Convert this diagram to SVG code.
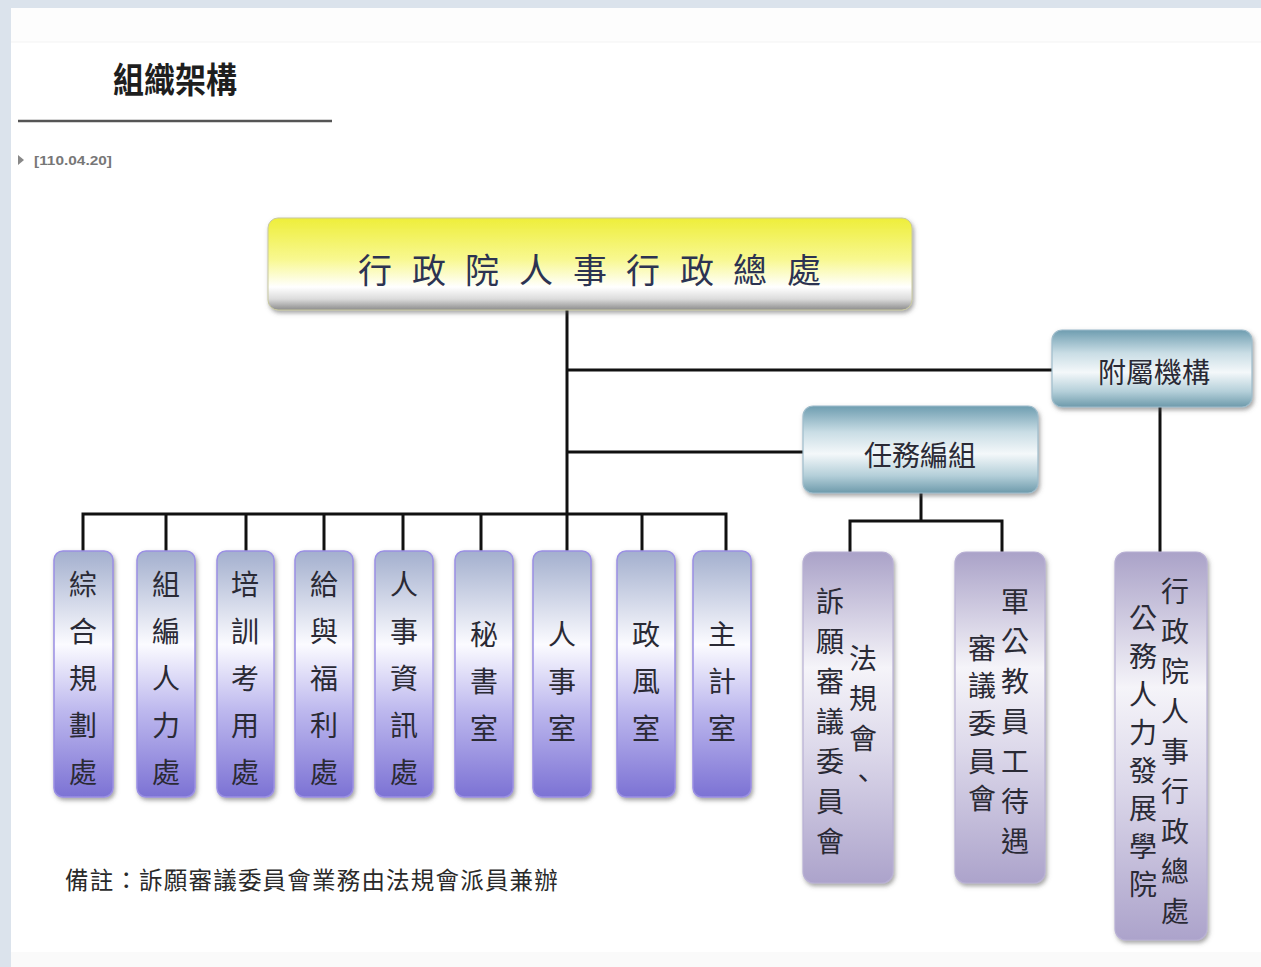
<svg xmlns="http://www.w3.org/2000/svg" width="1261" height="967" viewBox="0 0 1261 967">
<defs>
<style>
.cjk{font-family:"Noto Sans CJK TC","Noto Sans CJK SC",sans-serif;}
.lbl{font-size:28px;fill:#2a2a35;text-anchor:middle;dominant-baseline:central;}
.line{stroke:#111;stroke-width:3;fill:none;}
.purple{fill:url(#gPurple);stroke:#9a8fe4;stroke-width:1.5;filter:url(#sh);}
.lav{fill:url(#gLav);stroke:#b8b0d4;stroke-width:1.2;filter:url(#sh);}
.teal{fill:url(#gTeal);stroke:#9ebccb;stroke-width:1.2;filter:url(#sh);}
</style>
<linearGradient id="gTop" x1="0" y1="0" x2="0" y2="1">
<stop offset="0" stop-color="#eeee3a"/>
<stop offset="0.45" stop-color="#f8f890"/>
<stop offset="0.75" stop-color="#ffffff"/>
<stop offset="0.88" stop-color="#dcdcdc"/>
<stop offset="1" stop-color="#8c8c8c"/>
</linearGradient>
<linearGradient id="gTeal" x1="0" y1="0" x2="0" y2="1">
<stop offset="0" stop-color="#6e9db0"/>
<stop offset="0.3" stop-color="#c9dde5"/>
<stop offset="0.55" stop-color="#f4f8fa"/>
<stop offset="0.8" stop-color="#b4cfd9"/>
<stop offset="1" stop-color="#6d9aab"/>
</linearGradient>
<linearGradient id="gPurple" x1="0" y1="0" x2="0" y2="1">
<stop offset="0" stop-color="#a3afce"/>
<stop offset="0.38" stop-color="#fbfbff"/>
<stop offset="0.65" stop-color="#bdb8ee"/>
<stop offset="1" stop-color="#7c72d4"/>
</linearGradient>
<linearGradient id="gLav" x1="0" y1="0" x2="0" y2="1">
<stop offset="0" stop-color="#aaa2c8"/>
<stop offset="0.35" stop-color="#f5f4f9"/>
<stop offset="0.6" stop-color="#dcd8ea"/>
<stop offset="1" stop-color="#aca3cb"/>
</linearGradient>
<filter id="sh" x="-20%" y="-10%" width="140%" height="130%">
<feDropShadow dx="1.5" dy="2.5" stdDeviation="2" flood-color="#555" flood-opacity="0.55"/>
</filter>
</defs>

<rect x="0" y="0" width="1261" height="967" fill="#dbe3ec"/>
<rect x="11" y="8" width="1250" height="959" fill="#ffffff"/>
<rect x="11" y="8" width="1250" height="34" fill="#fdfdfd"/>
<line x1="11" y1="42" x2="1261" y2="42" stroke="#f3f3f3" stroke-width="1"/>
<rect x="11" y="952" width="1250" height="15" fill="#fafafa"/>

<g id="title">
<text class="cjk" x="175" y="0" font-size="31" font-weight="700" fill="#1e1e1e" text-anchor="middle" transform="translate(0 93) scale(1 1.12)">組織架構</text>
<line x1="18" y1="121" x2="332" y2="121" stroke="#555" stroke-width="2.5"/>
<polygon points="18,155 18,165 24,160" fill="#888"/>
<text x="34" y="165" font-family="Liberation Sans, sans-serif" font-size="13.5" font-weight="700" fill="#777" textLength="78" lengthAdjust="spacingAndGlyphs">[110.04.20]</text>
</g>

<g id="connectors">
<line class="line" x1="567" y1="310" x2="567" y2="551"/>
<line class="line" x1="567" y1="370" x2="1053" y2="370"/>
<line class="line" x1="567" y1="452" x2="804" y2="452"/>
<polyline class="line" points="83,551 83,514 726,514 726,551"/>
<line class="line" x1="166" y1="514" x2="166" y2="551"/>
<line class="line" x1="246" y1="514" x2="246" y2="551"/>
<line class="line" x1="324" y1="514" x2="324" y2="551"/>
<line class="line" x1="403" y1="514" x2="403" y2="551"/>
<line class="line" x1="481" y1="514" x2="481" y2="551"/>
<line class="line" x1="642" y1="514" x2="642" y2="551"/>
<line class="line" x1="921" y1="493" x2="921" y2="521"/>
<polyline class="line" points="850,552 850,521 1002,521 1002,552"/>
<line class="line" x1="1160" y1="407" x2="1160" y2="552"/>
</g>

<g id="n-top">
<rect x="268" y="218" width="644" height="92" rx="10" fill="url(#gTop)" stroke="#c8c8a0" stroke-width="1" filter="url(#sh)"/>
<text class="cjk" font-size="34" fill="#2c3352" text-anchor="middle" dominant-baseline="central" x="375 429 482 536 590 643 697 750 804" y="268">行政院人事行政總處</text>
</g>

<g id="n-fushu">
<rect class="teal" x="1052" y="330" width="200" height="77" rx="10"/>
<text class="cjk lbl" x="1154" y="371">附屬機構</text>
</g>

<g id="n-renwu">
<rect class="teal" x="803" y="406" width="235" height="87" rx="10"/>
<text class="cjk lbl" x="920" y="454">任務編組</text>
</g>

<g id="n-b1">
<rect class="purple" x="54" y="551" width="59" height="246" rx="9"/>
<text class="cjk lbl" x="83 83 83 83 83" y="583 630 677 724 771">綜合規劃處</text>
</g>
<g id="n-b2">
<rect class="purple" x="137" y="551" width="58" height="246" rx="9"/>
<text class="cjk lbl" x="166 166 166 166 166" y="583 630 677 724 771">組編人力處</text>
</g>
<g id="n-b3">
<rect class="purple" x="217" y="551" width="57" height="246" rx="9"/>
<text class="cjk lbl" x="245 245 245 245 245" y="583 630 677 724 771">培訓考用處</text>
</g>
<g id="n-b4">
<rect class="purple" x="295" y="551" width="58" height="246" rx="9"/>
<text class="cjk lbl" x="324 324 324 324 324" y="583 630 677 724 771">給與福利處</text>
</g>
<g id="n-b5">
<rect class="purple" x="375" y="551" width="58" height="246" rx="9"/>
<text class="cjk lbl" x="404 404 404 404 404" y="583 630 677 724 771">人事資訊處</text>
</g>
<g id="n-b6">
<rect class="purple" x="455" y="551" width="58" height="246" rx="9"/>
<text class="cjk lbl" x="484 484 484" y="633 680 727">秘書室</text>
</g>
<g id="n-b7">
<rect class="purple" x="533" y="551" width="58" height="246" rx="9"/>
<text class="cjk lbl" x="562 562 562" y="633 680 727">人事室</text>
</g>
<g id="n-b8">
<rect class="purple" x="617" y="551" width="58" height="246" rx="9"/>
<text class="cjk lbl" x="646 646 646" y="633 680 727">政風室</text>
</g>
<g id="n-b9">
<rect class="purple" x="693" y="551" width="58" height="246" rx="9"/>
<text class="cjk lbl" x="722 722 722" y="633 680 727">主計室</text>
</g>

<g id="n-fagui">
<rect class="lav" x="803" y="552" width="90" height="331" rx="11"/>
<text class="cjk lbl" x="863 863 863 863" y="657 697 737 777">法規會、</text>
<text class="cjk lbl" x="830 830 830 830 830 830 830" y="600 640 680 720 760 800 840">訴願審議委員會</text>
</g>

<g id="n-daiyu">
<rect class="lav" x="955" y="552" width="90" height="331" rx="11"/>
<text class="cjk lbl" x="1015 1015 1015 1015 1015 1015 1015" y="600 640 680 720 760 800 840">軍公教員工待遇</text>
<text class="cjk lbl" x="982 982 982 982 982" y="647 684 722 760 797">審議委員會</text>
</g>

<g id="n-xueyuan">
<rect class="lav" x="1115" y="552" width="92" height="388" rx="11"/>
<text class="cjk lbl" x="1175 1175 1175 1175 1175 1175 1175 1175 1175" y="590 630 670 710 750 790 830 870 910">行政院人事行政總處</text>
<text class="cjk lbl" x="1143 1143 1143 1143 1143 1143 1143 1143" y="617 655 693 731 769 807 845 883">公務人力發展學院</text>
</g>

<g id="note">
<text class="cjk" x="65" y="889" font-size="23.5" fill="#2a2a2a" letter-spacing="1.2">備註：訴願審議委員會業務由法規會派員兼辦</text>
</g>
</svg>
